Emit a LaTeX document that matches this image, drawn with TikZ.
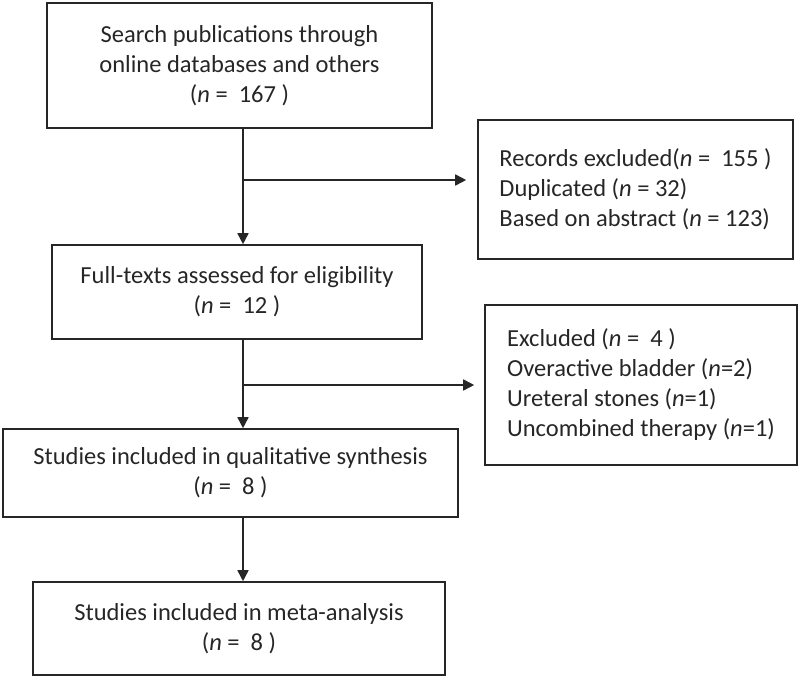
\documentclass[tikz,border=0pt]{standalone}
\usepackage{fontspec}
\setmainfont{Carlito}
\usetikzlibrary{arrows.meta}
\begin{document}
\begin{tikzpicture}[x=1pt,y=-1pt,
  box/.style={draw=black!85, line width=1.6pt, rectangle, inner sep=0pt,
    font=\fontsize{24.5}{30}\selectfont, text=black!85},
  flow/.style={draw=black!85, line width=1.6pt, -{Triangle[length=11pt,width=11pt]}},
  plain/.style={draw=black!85, line width=1.6pt}]
\useasboundingbox (0,0) rectangle (800,678);
\node[box, minimum width=385pt, minimum height=125pt, align=center] (b1) at (239.5,65.5)
  {Search publications through\\online databases and others\\(\textit{n} = \ 167\ )};
\node[box, minimum width=315pt, minimum height=139pt, align=left] (b2) at (635.5,189.5)
  {Records excluded(\textit{n} = \ 155\ )\\Duplicated (\textit{n} = 32)\\Based on abstract (\textit{n} = 123)};
\node[box, minimum width=370pt, minimum height=94pt, align=center] (b3) at (237,292)
  {Full-texts assessed for eligibility\\(\textit{n} = \ 12\ )};
\node[box, minimum width=312pt, minimum height=160pt, align=left] (b4) at (641,385)
  {Excluded (\textit{n} = \ 4\ )\\Overactive bladder (\textit{n}=2)\\Ureteral stones (\textit{n}=1)\\Uncombined therapy (\textit{n}=1)};
\node[box, minimum width=455pt, minimum height=88pt, align=center] (b5) at (230.5,473)
  {Studies included in qualitative synthesis\\(\textit{n} = \ 8\ )};
\node[box, minimum width=412pt, minimum height=93pt, align=center] (b6) at (239,628.5)
  {Studies included in meta-analysis\\(\textit{n} = \ 8\ )};
\coordinate (j1) at (243,180);
\coordinate (j2) at (243,385);
\draw[flow] (j1 |- b1.south) -- (j1 |- b3.north);
\draw[flow, shorten >=11pt] (j1) -- (b2.west |- j1);
\draw[flow] (j2 |- b3.south) -- (j2 |- b5.north);
\draw[flow, shorten >=10pt] (j2) -- (b4.west |- j2);
\draw[flow] (j2 |- b5.south) -- (j2 |- b6.north);
\end{tikzpicture}
\end{document}
